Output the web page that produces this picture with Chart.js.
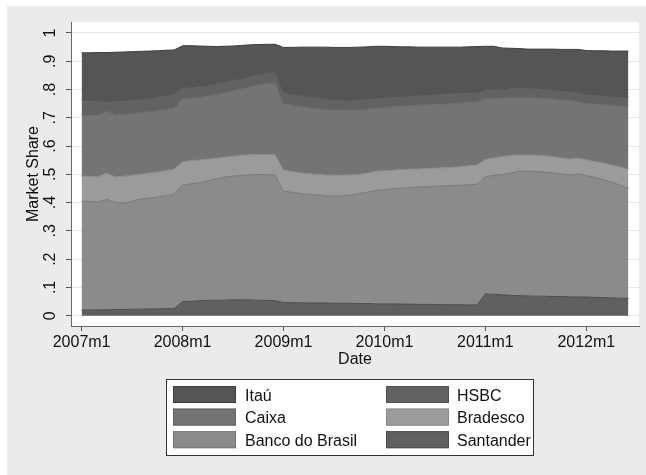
<!DOCTYPE html>
<html lang="en">
<head>
  <meta charset="UTF-8" />
  <title>Market Share</title>
  <script src="https://cdn.jsdelivr.net/npm/chart.js"></script>
  <style>
    * { margin: 0; padding: 0; box-sizing: border-box; }
    body { width: 646px; height: 475px; background: #fff; overflow: hidden; }
    .frame {
      position: absolute; left: 7px; top: 6px; right: 0; bottom: 0;
      background: #ebebeb;
    }
    #wrap { position: absolute; left: 0; top: 0; width: 646px; height: 475px; }
  </style>
</head>
<body>
  <div class="frame"></div>
  <div id="wrap"><canvas id="shareChart"></canvas></div>

  <script>
    // monthly observations, 2007m1 .. 2012m6 (index 0 = 2007m1)
    const months = [];
    for (let i = 0; i < 66; i++) months.push(i);

    const tickMonths = [0, 12, 24, 36, 48, 60];
    const tickLabels = ['2007m1', '2008m1', '2009m1', '2010m1', '2011m1', '2012m1'];
    const yTicks = [0, 0.1, 0.2, 0.3, 0.4, 0.5, 0.6, 0.7, 0.8, 0.9, 1];
    const yTickLabels = ['0', '.1', '.2', '.3', '.4', '.5', '.6', '.7', '.8', '.9', '1'];

    const santander = [
      0.020, 0.020, 0.021, 0.021, 0.022, 0.022, 0.023, 0.023, 0.024, 0.024, 0.025, 0.025,
      0.050, 0.051, 0.053, 0.054, 0.055, 0.055, 0.056, 0.056, 0.056, 0.055, 0.054, 0.053,
      0.047, 0.046, 0.046, 0.045, 0.045, 0.045, 0.044, 0.044, 0.044, 0.043, 0.043, 0.042,
      0.042, 0.042, 0.041, 0.041, 0.040, 0.040, 0.040, 0.039, 0.039, 0.039, 0.038, 0.038,
      0.077, 0.076, 0.074, 0.072, 0.071, 0.070, 0.069, 0.069, 0.068, 0.068, 0.067, 0.066,
      0.066, 0.065, 0.064, 0.063, 0.062, 0.061
    ];
    const bancoDoBrasil = [
      0.385, 0.384, 0.381, 0.391, 0.378, 0.377, 0.382, 0.390, 0.392, 0.396, 0.399, 0.404,
      0.412, 0.415, 0.418, 0.423, 0.430, 0.435, 0.438, 0.440, 0.442, 0.444, 0.445, 0.445,
      0.394, 0.390, 0.386, 0.384, 0.382, 0.379, 0.379, 0.380, 0.383, 0.389, 0.394, 0.401,
      0.404, 0.407, 0.410, 0.412, 0.415, 0.416, 0.418, 0.420, 0.421, 0.422, 0.425, 0.427,
      0.415, 0.420, 0.425, 0.433, 0.440, 0.441, 0.441, 0.439, 0.437, 0.433, 0.431, 0.435,
      0.430, 0.424, 0.417, 0.410, 0.400, 0.390
    ];
    const bradesco = [
      0.089, 0.089, 0.090, 0.092, 0.091, 0.094, 0.092, 0.087, 0.088, 0.088, 0.089, 0.089,
      0.083, 0.082, 0.080, 0.077, 0.072, 0.070, 0.070, 0.071, 0.071, 0.071, 0.071, 0.071,
      0.074, 0.074, 0.073, 0.073, 0.073, 0.074, 0.075, 0.073, 0.071, 0.068, 0.068, 0.068,
      0.067, 0.066, 0.065, 0.065, 0.064, 0.064, 0.064, 0.064, 0.065, 0.066, 0.067, 0.068,
      0.061, 0.062, 0.064, 0.062, 0.057, 0.057, 0.057, 0.058, 0.058, 0.057, 0.056, 0.056,
      0.056, 0.056, 0.059, 0.060, 0.064, 0.067
    ];
    const caixa = [
      0.216, 0.217, 0.217, 0.221, 0.219, 0.219, 0.219, 0.218, 0.218, 0.218, 0.217, 0.216,
      0.222, 0.222, 0.221, 0.223, 0.226, 0.229, 0.233, 0.236, 0.241, 0.246, 0.251, 0.255,
      0.234, 0.235, 0.235, 0.234, 0.233, 0.232, 0.230, 0.230, 0.229, 0.228, 0.226, 0.224,
      0.224, 0.225, 0.226, 0.226, 0.226, 0.226, 0.226, 0.226, 0.226, 0.226, 0.225, 0.224,
      0.214, 0.211, 0.207, 0.204, 0.204, 0.204, 0.204, 0.203, 0.204, 0.206, 0.207, 0.200,
      0.199, 0.204, 0.207, 0.212, 0.217, 0.223
    ];
    const hsbc = [
      0.054, 0.052, 0.052, 0.032, 0.051, 0.050, 0.048, 0.048, 0.048, 0.049, 0.050, 0.053,
      0.040, 0.040, 0.040, 0.039, 0.039, 0.039, 0.038, 0.037, 0.038, 0.038, 0.038, 0.040,
      0.043, 0.041, 0.040, 0.040, 0.039, 0.038, 0.037, 0.037, 0.036, 0.037, 0.037, 0.036,
      0.036, 0.035, 0.035, 0.035, 0.036, 0.036, 0.036, 0.037, 0.037, 0.036, 0.035, 0.034,
      0.034, 0.033, 0.033, 0.034, 0.035, 0.034, 0.034, 0.034, 0.033, 0.033, 0.033, 0.034,
      0.033, 0.032, 0.032, 0.032, 0.032, 0.032
    ];
    const itau = [
      0.166, 0.168, 0.170, 0.174, 0.171, 0.171, 0.170, 0.169, 0.166, 0.162, 0.159, 0.153,
      0.148, 0.145, 0.142, 0.137, 0.130, 0.125, 0.119, 0.116, 0.110, 0.105, 0.101, 0.096,
      0.157, 0.163, 0.170, 0.174, 0.178, 0.182, 0.184, 0.185, 0.186, 0.185, 0.183, 0.182,
      0.180, 0.177, 0.174, 0.172, 0.169, 0.168, 0.166, 0.164, 0.162, 0.161, 0.161, 0.161,
      0.152, 0.151, 0.144, 0.141, 0.138, 0.137, 0.138, 0.140, 0.143, 0.145, 0.148, 0.151,
      0.154, 0.156, 0.158, 0.159, 0.161, 0.163
    ];

    // stacked bottom to top
    const series = [
      { name: 'Santander', data: santander, fill: '#606060', line: '#4c4c4c' },
      { name: 'Banco do Brasil', data: bancoDoBrasil, fill: '#8b8b8b', line: '#777777' },
      { name: 'Bradesco', data: bradesco, fill: '#9b9b9b', line: '#8a8a8a' },
      { name: 'Caixa', data: caixa, fill: '#747474', line: '#666666' },
      { name: 'HSBC', data: hsbc, fill: '#626262', line: '#505050' },
      { name: 'Itaú', data: itau, fill: '#555555', line: '#3e3e3e' }
    ];
    const legendOrder = ['Itaú', 'HSBC', 'Caixa', 'Bradesco', 'Banco do Brasil', 'Santander'];

    const FONT = '16px "Liberation Sans", Arial, Helvetica, sans-serif';

    const textPlugin = {
      id: 'stataText',
      afterDraw(chart) {
        const ctx = chart.ctx;
        const xs = chart.scales.x, ys = chart.scales.y;
        ctx.save();
        ctx.fillStyle = '#111';
        ctx.font = FONT;
        ctx.textAlign = 'center';
        ctx.textBaseline = 'alphabetic';

        // x tick labels + title
        tickMonths.forEach((m, i) => {
          ctx.fillText(tickLabels[i], xs.getPixelForValue(m), 347);
        });
        ctx.fillText('Date', (chart.chartArea.left + chart.chartArea.right) / 2, 364);

        // y tick labels, rotated
        yTicks.forEach((v, i) => {
          ctx.save();
          ctx.translate(55, ys.getPixelForValue(v));
          ctx.rotate(-Math.PI / 2);
          ctx.fillText(yTickLabels[i], 0, 0);
          ctx.restore();
        });
        ctx.save();
        ctx.translate(38, (chart.chartArea.top + chart.chartArea.bottom) / 2);
        ctx.rotate(-Math.PI / 2);
        ctx.fillText('Market Share', 0, 0);
        ctx.restore();

        // legend
        ctx.fillStyle = '#fff';
        ctx.fillRect(166, 379, 368, 77);
        ctx.strokeStyle = '#333';
        ctx.lineWidth = 1;
        ctx.strokeRect(166.5, 379.5, 367, 76);
        ctx.textAlign = 'left';
        legendOrder.forEach((name, i) => {
          const s = series.find(d => d.name === name);
          const col = i % 2, row = Math.floor(i / 2);
          const sx = col === 0 ? 173 : 386;
          const sy = 386 + row * 22.6;
          ctx.fillStyle = s.fill;
          ctx.fillRect(sx, sy, 63, 17);
          ctx.strokeStyle = s.line;
          ctx.strokeRect(sx + 0.5, sy + 0.5, 62, 16);
          ctx.fillStyle = '#111';
          ctx.fillText(name, col === 0 ? 245 : 457, sy + 14.5);
        });
        ctx.restore();
      }
    };

    const plotBg = {
      id: 'plotBg',
      beforeDraw(chart) {
        const a = chart.chartArea;
        chart.ctx.save();
        chart.ctx.fillStyle = '#fff';
        chart.ctx.fillRect(a.left, a.top, a.right - a.left, a.bottom - a.top);
        chart.ctx.restore();
      }
    };

    new Chart(document.getElementById('shareChart'), {
      type: 'line',
      data: {
        labels: months,
        datasets: series.map((s, i) => ({
          label: s.name,
          data: s.data,
          backgroundColor: s.fill,
          borderColor: s.line,
          borderWidth: 1,
          pointRadius: 0,
          tension: 0,
          fill: i === 0 ? 'origin' : '-1'
        }))
      },
      options: {
        responsive: true,
        maintainAspectRatio: false,
        animation: false,
        layout: { padding: { left: 0, top: 22, right: 7, bottom: 109 } },
        plugins: { legend: { display: false }, tooltip: { enabled: false } },
        scales: {
          x: {
            type: 'linear',
            min: -1.26,
            max: 66.26,
            afterBuildTicks: s => { s.ticks = tickMonths.map(v => ({ value: v })); },
            afterFit: s => { s.height = 40; },
            ticks: { display: false },
            grid: { drawOnChartArea: false, tickLength: 5, tickColor: '#555', lineWidth: 1 },
            border: { display: true, color: '#666', width: 1 }
          },
          y: {
            stacked: true,
            min: -0.0364,
            max: 1.0389,
            afterBuildTicks: s => { s.ticks = yTicks.map(v => ({ value: v })); },
            afterFit: s => { s.width = 71; },
            ticks: { display: false },
            grid: { color: '#e6e6e6', tickLength: 5, tickColor: '#555', lineWidth: 1 },
            border: { display: true, color: '#666', width: 1 }
          }
        }
      },
      plugins: [plotBg, textPlugin]
    });
  </script>
</body>
</html>
